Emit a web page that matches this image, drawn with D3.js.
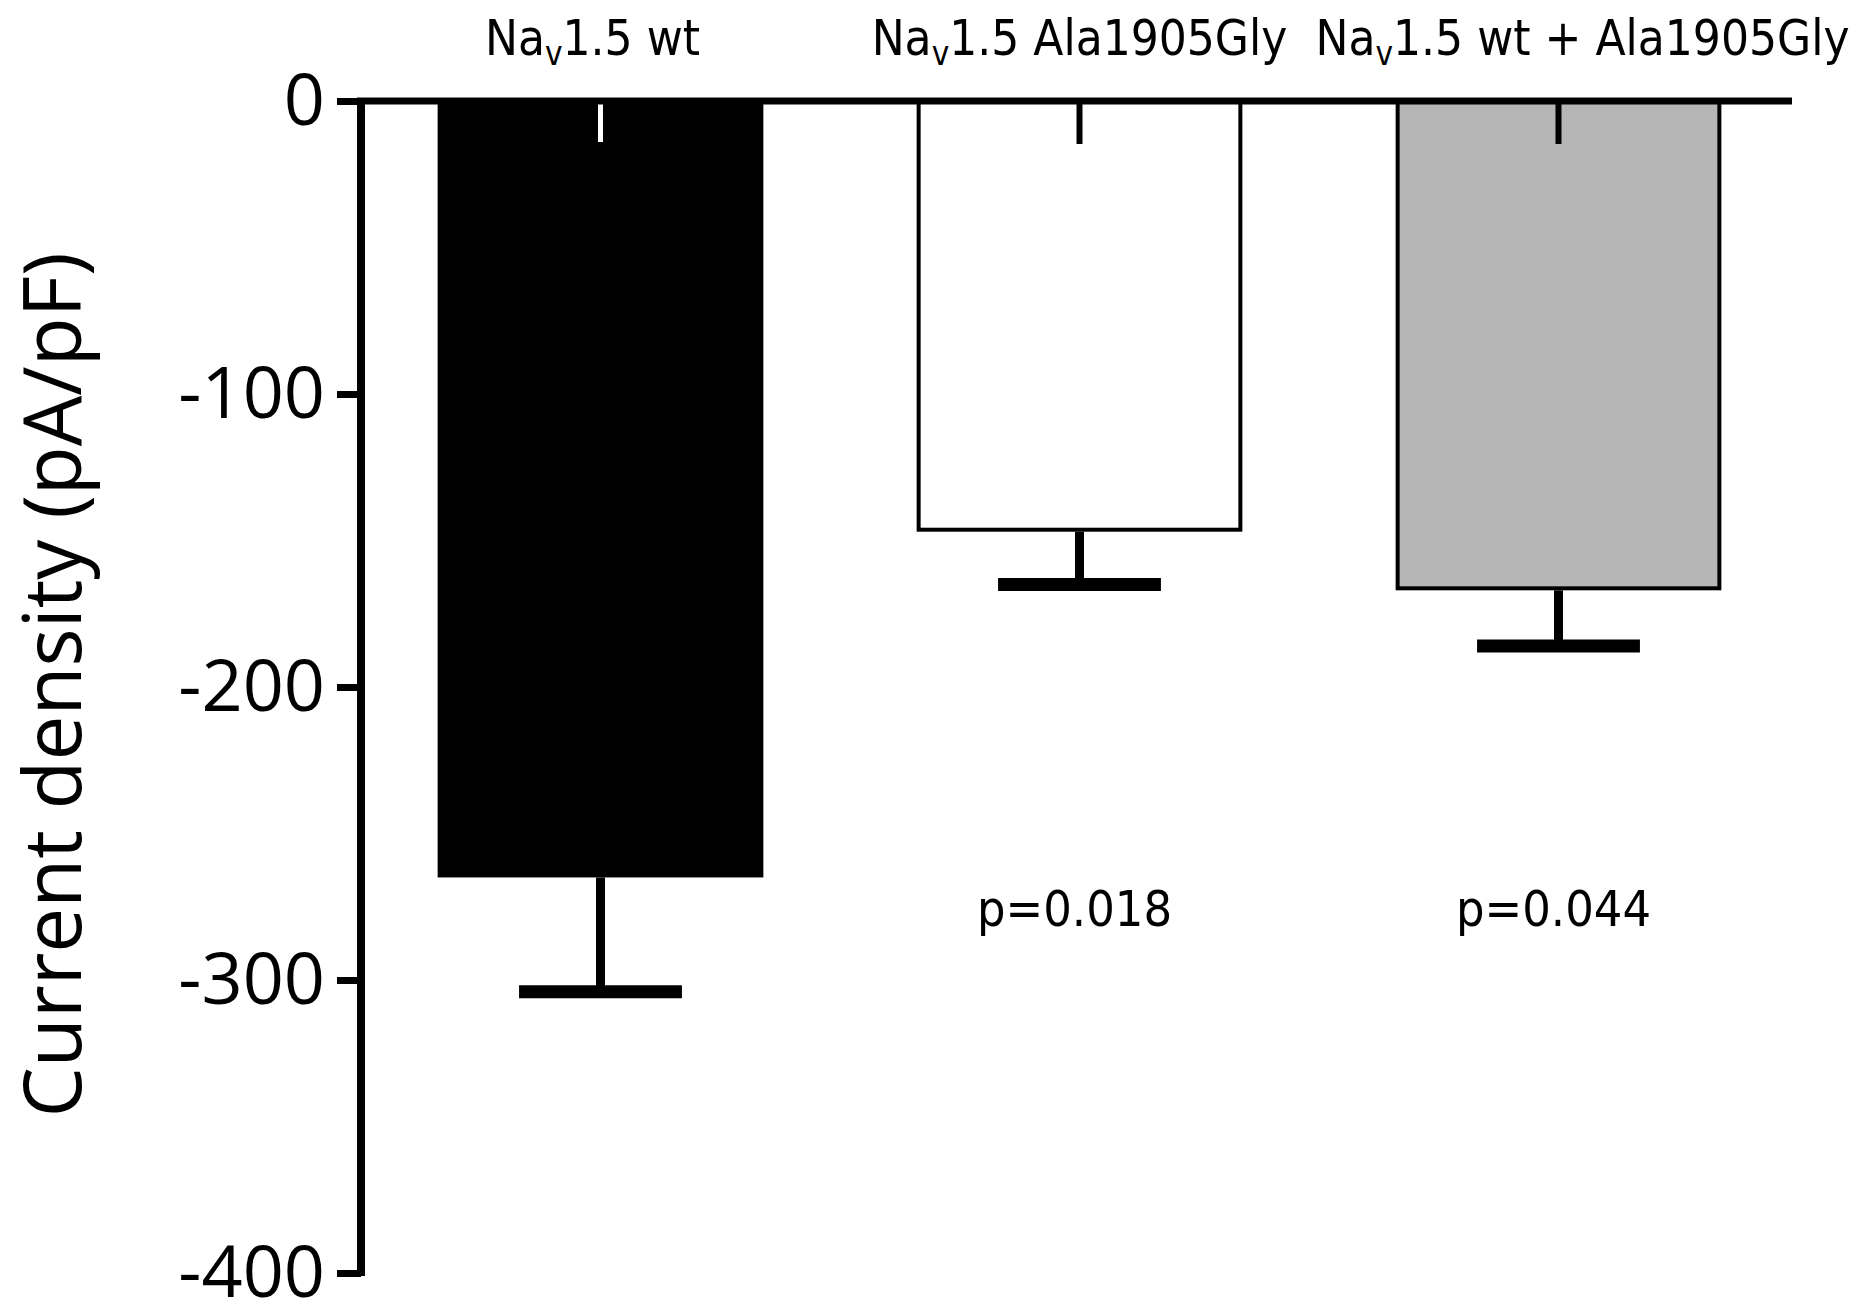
<!DOCTYPE html>
<html>
<head>
<meta charset="utf-8">
<script src="https://cdnjs.cloudflare.com/ajax/libs/d3/7.8.5/d3.min.js"></script>
<style>
  body { margin: 0; background: #fff; }
</style>
</head>
<body>
<div class="chart"></div>
<script>
// data
var groups = ["wt", "Ala1905Gly", "wt + Ala1905Gly"];
var labelRest = ["1.5 wt", "1.5 Ala1905Gly", "1.5 wt + Ala1905Gly"];
var means = [-265, -147, -167];
var sems = [39, 18, 19];
var upperErr = [-14, -14, -14];
var pLabels = ["", "p=0.018", "p=0.044"];
var yTicks = [0, -100, -200, -300, -400];
var fills = ["#000000", "#ffffff", "#b6b6b6"];

var svgWidth = 1869;
var svgHeight = 1305;

var svg = d3.select(".chart")
  .append("svg")
  .attr("width", svgWidth)
  .attr("height", svgHeight);

var axisX = 361;
var yScale = d3.scaleLinear()
  .domain([-400, 0])
  .range([1273, 101]);

var xScale = d3.scaleBand()
  .domain(groups)
  .range([axisX, 1798])
  .paddingInner(0.32)
  .paddingOuter(0.16);

var rows = groups.map(function(g, i) {
  return { i: i, g: g, rest: labelRest[i], mean: means[i], sem: sems[i], up: upperErr[i], p: pLabels[i], fill: fills[i] };
});

// bars
svg.selectAll("rect.bar")
  .data(rows)
  .enter()
  .append("rect")
  .attr("class", "bar")
  .attr("x", d => xScale(d.g) + 2)
  .attr("y", yScale(0))
  .attr("width", xScale.bandwidth() - 4)
  .attr("height", d => yScale(d.mean) - yScale(0) - 2)
  .attr("fill", d => d.fill)
  .attr("stroke", "#000")
  .attr("stroke-width", 4);

// lower error bars
var cx = d => xScale(d.g) + xScale.bandwidth() / 2;
var capW = xScale.bandwidth() * 0.5;

svg.selectAll("line.stem")
  .data(rows)
  .enter()
  .append("line")
  .attr("x1", cx).attr("x2", cx)
  .attr("y1", d => yScale(d.mean))
  .attr("y2", d => yScale(d.mean - d.sem))
  .attr("stroke", "#000")
  .attr("stroke-width", 9);

svg.selectAll("line.cap")
  .data(rows)
  .enter()
  .append("line")
  .attr("x1", d => cx(d) - capW / 2)
  .attr("x2", d => cx(d) + capW / 2)
  .attr("y1", d => yScale(d.mean - d.sem))
  .attr("y2", d => yScale(d.mean - d.sem))
  .attr("stroke", "#000")
  .attr("stroke-width", 13);

// short marks hanging from the zero line
svg.selectAll("line.upOutline")
  .data(rows)
  .enter()
  .append("line")
  .attr("x1", cx).attr("x2", cx)
  .attr("y1", yScale(0))
  .attr("y2", d => yScale(d.up) + 2)
  .attr("stroke", "#000")
  .attr("stroke-width", d => d.fill == "#000000" ? 9 : 6);

svg.selectAll("line.upInner")
  .data(rows.filter(d => d.fill == "#000000"))
  .enter()
  .append("line")
  .attr("x1", cx).attr("x2", cx)
  .attr("y1", yScale(0))
  .attr("y2", d => yScale(d.up))
  .attr("stroke", "#fff")
  .attr("stroke-width", 5);

// y axis
var leftAxis = d3.axisLeft(yScale)
  .tickValues(yTicks)
  .tickFormat(d3.format("d"))
  .tickSize(24)
  .tickPadding(12);

var yAxisG = svg.append("g")
  .attr("transform", `translate(${axisX}, 0)`)
  .call(leftAxis);

yAxisG.select(".domain")
  .attr("stroke-width", 8)
  .attr("d", `M0,${yScale(0)}V${yScale(-400) + 3}`);
yAxisG.selectAll(".tick line").attr("stroke-width", 7);
yAxisG.selectAll(".tick text")
  .attr("font-family", "'Open Sans', sans-serif")
  .attr("font-size", 72)
  .attr("fill", "#000")
  .text(d => d == 0 ? "0" : "-" + Math.abs(d));

// zero line across the top
svg.append("line")
  .attr("x1", axisX - 4)
  .attr("x2", 1792)
  .attr("y1", yScale(0))
  .attr("y2", yScale(0))
  .attr("stroke", "#000")
  .attr("stroke-width", 7);

// category labels (the last one sits a little right of its bar in the original)
var catText = svg.selectAll("text.cat")
  .data(rows)
  .enter()
  .append("text")
  .attr("class", "cat")
  .attr("x", d => cx(d) + (d.i == 2 ? 24 : d.i == 0 ? -8 : 0))
  .attr("y", 55)
  .attr("text-anchor", "middle")
  .attr("font-family", "'DejaVu Sans Condensed', 'DejaVu Sans', sans-serif")
  .attr("font-size", 49)
  .attr("fill", "#000");
catText.append("tspan").text("Na");
catText.append("tspan").attr("font-size", 33).attr("dy", 10).text("v");
catText.append("tspan").attr("dy", -10).text(d => d.rest);

// p values
svg.selectAll("text.p")
  .data(rows.filter(d => d.p))
  .enter()
  .append("text")
  .attr("x", d => cx(d) - 5)
  .attr("y", 926)
  .attr("text-anchor", "middle")
  .attr("font-family", "'DejaVu Sans Condensed', 'DejaVu Sans', sans-serif")
  .attr("font-size", 50)
  .attr("fill", "#000")
  .text(d => d.p);

// y axis title
svg.append("text")
  .attr("transform", "translate(81, 685) rotate(-90)")
  .attr("text-anchor", "middle")
  .attr("font-family", "'Open Sans', sans-serif")
  .attr("font-size", 80)
  .attr("fill", "#000")
  .text("Current density (pA/pF)");
</script>
</body>
</html>
